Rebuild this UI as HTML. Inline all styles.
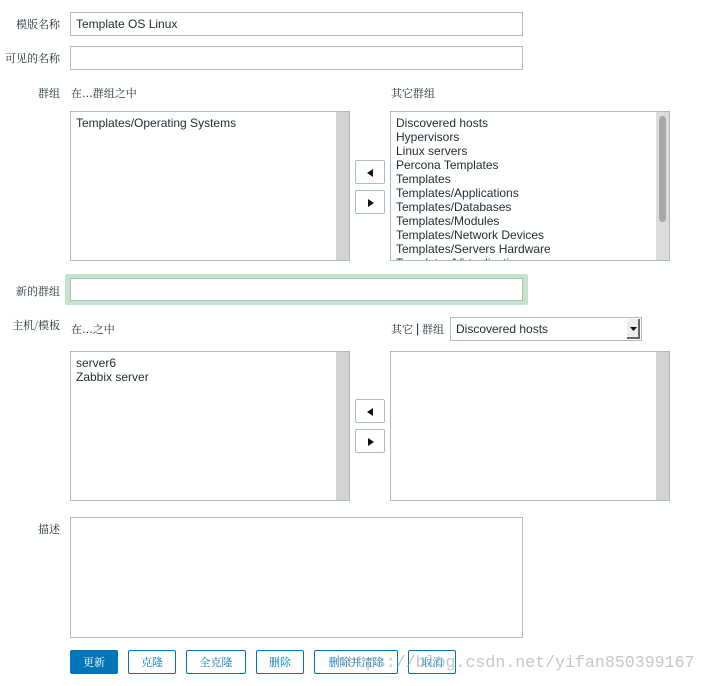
<!DOCTYPE html>
<html><head><meta charset="utf-8"><style>
*{box-sizing:border-box;margin:0;padding:0}
body{width:706px;height:686px;background:#fff;position:relative;overflow:hidden;font-family:"Liberation Sans","Noto Sans CJK SC",sans-serif;font-size:12px;color:#1f2c33}
.a{position:absolute}
.lbl{position:absolute;font-family:"Noto Serif CJK SC","Liberation Serif",serif;font-size:11px;color:#1f2c33;white-space:nowrap}
.r{text-align:right;width:60px;left:0}
.in{position:absolute;border:1px solid #acbbc2;background:#fff;padding-left:5px;line-height:22px;font-size:12px}
.lb{position:absolute;border:1px solid #acbbc2;background:#fff;overflow:hidden}
.lb .it{position:absolute;left:5px;top:4px;line-height:14px;font-size:12px;white-space:nowrap}
.sb{position:absolute;right:0;top:0;bottom:0;width:13px;background:#d3d3d3}
.ab{position:absolute;width:30px;height:24px;border:1px solid #acbbc2;border-radius:2px;background:#fff}
.ab svg{position:absolute;left:11px;top:8px}
.bt{position:absolute;top:650px;height:24px;border:1px solid #0275b8;border-radius:2px;background:#fff;color:#0275b8;font-family:"Noto Serif CJK SC",serif;font-size:11px;text-align:center;line-height:22px}
</style></head><body>
<div class="lbl r" style="top:16px">模版名称</div>
<div class="in" style="left:70px;top:12px;width:453px;height:24px">Template OS Linux</div>
<div class="lbl r" style="top:50px">可见的名称</div>
<div class="in" style="left:70px;top:46px;width:453px;height:24px"></div>

<div class="lbl r" style="top:85px">群组</div>
<div class="lbl" style="left:71px;top:85px">在...群组之中</div>
<div class="lbl" style="left:391px;top:85px">其它群组</div>
<div class="lb" style="left:70px;top:111px;width:280px;height:150px"><div class="it">Templates/Operating Systems</div><div class="sb"></div></div>
<div class="ab" style="left:355px;top:160px"><svg width="7" height="8"><polygon points="6,0 6,8 0,4" fill="#111"/></svg></div>
<div class="ab" style="left:355px;top:190px"><svg width="7" height="8"><polygon points="1,0 1,8 7,4" fill="#111"/></svg></div>
<div class="lb" style="left:390px;top:111px;width:280px;height:150px"><div class="it">Discovered hosts<br>Hypervisors<br>Linux servers<br>Percona Templates<br>Templates<br>Templates/Applications<br>Templates/Databases<br>Templates/Modules<br>Templates/Network Devices<br>Templates/Servers Hardware<br>Templates/Virtualization</div><div class="sb" style="background:#dcdcdc"><div class="a" style="left:3px;top:4px;width:7px;height:106px;border-radius:4px;background:#a8a8a8"></div></div></div>

<div class="lbl r" style="top:283px">新的群组</div>
<div class="a" style="left:65px;top:274px;width:463px;height:31px;background:#c4e3c8;border-radius:2px"></div>
<div class="in" style="left:70px;top:278px;width:453px;height:23px"></div>

<div class="lbl r" style="top:317px">主机/模板</div>
<div class="lbl" style="left:71px;top:321px">在...之中</div>
<div class="lbl" style="left:391px;top:321px">其它 <span style="font-family:'Liberation Sans';font-size:13px">|</span> 群组</div>
<div class="in" style="left:450px;top:317px;width:192px;height:24px;line-height:22px">Discovered hosts
<div class="a" style="right:1px;top:1px;width:13px;height:20px;background:#eee;border-right:2px solid #666;border-bottom:2px solid #666"><svg class="a" style="left:3px;top:8px" width="7" height="4"><polygon points="0,0 7,0 3.5,4" fill="#111"/></svg></div></div>
<div class="lb" style="left:70px;top:351px;width:280px;height:150px"><div class="it">server6<br>Zabbix server</div><div class="sb"></div></div>
<div class="ab" style="left:355px;top:399px"><svg width="7" height="8"><polygon points="6,0 6,8 0,4" fill="#111"/></svg></div>
<div class="ab" style="left:355px;top:429px"><svg width="7" height="8"><polygon points="1,0 1,8 7,4" fill="#111"/></svg></div>
<div class="lb" style="left:390px;top:351px;width:280px;height:150px"><div class="sb"></div></div>

<div class="lbl r" style="top:521px">描述</div>
<div class="lb" style="left:70px;top:517px;width:453px;height:121px"></div>

<div class="bt" style="left:70px;width:48px;background:#0275b8;color:#fff">更新</div>
<div class="bt" style="left:128px;width:48px">克隆</div>
<div class="bt" style="left:186px;width:60px">全克隆</div>
<div class="bt" style="left:256px;width:48px">删除</div>
<div class="bt" style="left:314px;width:84px">删除并清除</div>
<div class="bt" style="left:408px;width:48px">取消</div>
<div class="a" style="left:336px;top:653px;font-family:'Liberation Mono',monospace;font-size:16.6px;color:rgba(160,160,160,0.6);white-space:nowrap">https://blog.csdn.net/yifan850399167</div>
</body></html>
